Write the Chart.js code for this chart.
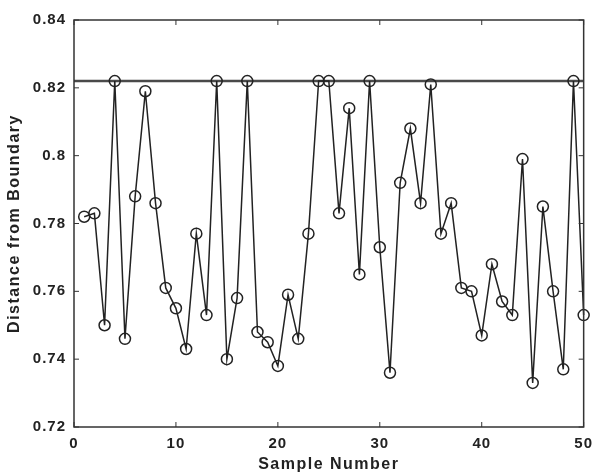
<!DOCTYPE html>
<html>
<head>
<meta charset="utf-8">
<script src="https://cdn.jsdelivr.net/npm/chart.js@4"></script>
<style>
  body { margin: 0; background: #fff; }
  #wrap { width: 600px; height: 476px; }
</style>
</head>
<body>
<div id="wrap"><canvas id="distChart"></canvas></div>
<script>
const sampleNumbers = [1, 2, 3, 4, 5, 6, 7, 8, 9, 10,
  11, 12, 13, 14, 15, 16, 17, 18, 19, 20,
  21, 22, 23, 24, 25, 26, 27, 28, 29, 30,
  31, 32, 33, 34, 35, 36, 37, 38, 39, 40,
  41, 42, 43, 44, 45, 46, 47, 48, 49, 50];
const distances = [0.782, 0.783, 0.750, 0.822, 0.746, 0.788, 0.819, 0.786, 0.761, 0.755,
  0.743, 0.777, 0.753, 0.822, 0.740, 0.758, 0.822, 0.748, 0.745, 0.738,
  0.759, 0.746, 0.777, 0.822, 0.822, 0.783, 0.814, 0.765, 0.822, 0.773,
  0.736, 0.792, 0.808, 0.786, 0.821, 0.777, 0.786, 0.761, 0.760, 0.747,
  0.768, 0.757, 0.753, 0.799, 0.733, 0.785, 0.760, 0.737, 0.822, 0.753];
const boundaryX = [0, 50];
const boundaryY = [0.822, 0.822];
const xTicks = [0, 10, 20, 30, 40, 50];
const yTicks = [0.72, 0.74, 0.76, 0.78, 0.8, 0.82, 0.84];
const yTickLabels = ["0.72", "0.74", "0.76", "0.78", "0.8", "0.82", "0.84"];

const FONT = "'Liberation Sans', Arial, sans-serif";
const INK = "#222";

// box round the plot with short inward ticks on every side
const frame = {
  id: "frame",
  beforeDraw(chart) {
    chart.ctx.letterSpacing = "1.5px";
  },
  afterDatasetsDraw(chart) {
    const { ctx, chartArea: a, scales: { x, y } } = chart;
    ctx.save();
    ctx.strokeStyle = "#333";
    ctx.lineWidth = 1.5;
    ctx.strokeRect(a.left, a.top, a.right - a.left, a.bottom - a.top);
    ctx.lineWidth = 1;
    ctx.beginPath();
    xTicks.forEach(v => {
      const px = x.getPixelForValue(v);
      ctx.moveTo(px, a.bottom); ctx.lineTo(px, a.bottom - 5);
      ctx.moveTo(px, a.top); ctx.lineTo(px, a.top + 5);
    });
    yTicks.forEach(v => {
      const py = y.getPixelForValue(v);
      ctx.moveTo(a.left, py); ctx.lineTo(a.left + 5, py);
      ctx.moveTo(a.right, py); ctx.lineTo(a.right - 5, py);
    });
    ctx.stroke();
    ctx.restore();
    ctx.letterSpacing = "1px";
  }
};

new Chart(document.getElementById("distChart"), {
  type: "line",
  data: {
    datasets: [
      {
        data: sampleNumbers.map((s, i) => ({ x: s, y: distances[i] })),
        borderColor: INK,
        borderWidth: 1.5,
        pointRadius: 5.5,
        pointBorderWidth: 1.5,
        pointBorderColor: INK,
        pointBackgroundColor: "rgba(0,0,0,0)",
        tension: 0,
        clip: false
      },
      {
        data: boundaryX.map((s, i) => ({ x: s, y: boundaryY[i] })),
        borderColor: "#4a4a4a",
        borderWidth: 2.5,
        pointRadius: 0
      }
    ]
  },
  plugins: [frame],
  options: {
    responsive: true,
    maintainAspectRatio: false,
    animation: false,
    events: [],
    layout: { padding: { top: 20, right: 10, left: 0, bottom: 0 } },
    plugins: { legend: { display: false }, tooltip: { enabled: false } },
    scales: {
      x: {
        type: "linear",
        min: 0,
        max: 50,
        afterBuildTicks: s => { s.ticks = xTicks.map(v => ({ value: v })); },
        afterFit: s => { s.height = 49; },
        grid: { display: false, drawTicks: false },
        border: { display: false },
        ticks: {
          z: 1,
          padding: 8,
          color: INK,
          font: { family: FONT, size: 15, weight: "bold" },
          maxRotation: 0
        },
        title: {
          display: true,
          text: "Sample Number",
          color: INK,
          font: { family: FONT, size: 16, weight: "bold" },
          padding: { top: 0, bottom: 2 }
        }
      },
      y: {
        min: 0.72,
        max: 0.84,
        afterBuildTicks: s => { s.ticks = yTicks.map(v => ({ value: v })); },
        afterFit: s => { s.width = 74; },
        grid: { display: false, drawTicks: false },
        border: { display: false },
        ticks: {
          z: 1,
          padding: 8,
          color: INK,
          font: { family: FONT, size: 15, weight: "bold" },
          callback: (v, i) => yTickLabels[i]
        },
        title: {
          display: true,
          text: "Distance from Boundary",
          color: INK,
          font: { family: FONT, size: 16, weight: "bold" },
          padding: { top: 5, bottom: 0 }
        }
      }
    }
  }
});
</script>
</body>
</html>
